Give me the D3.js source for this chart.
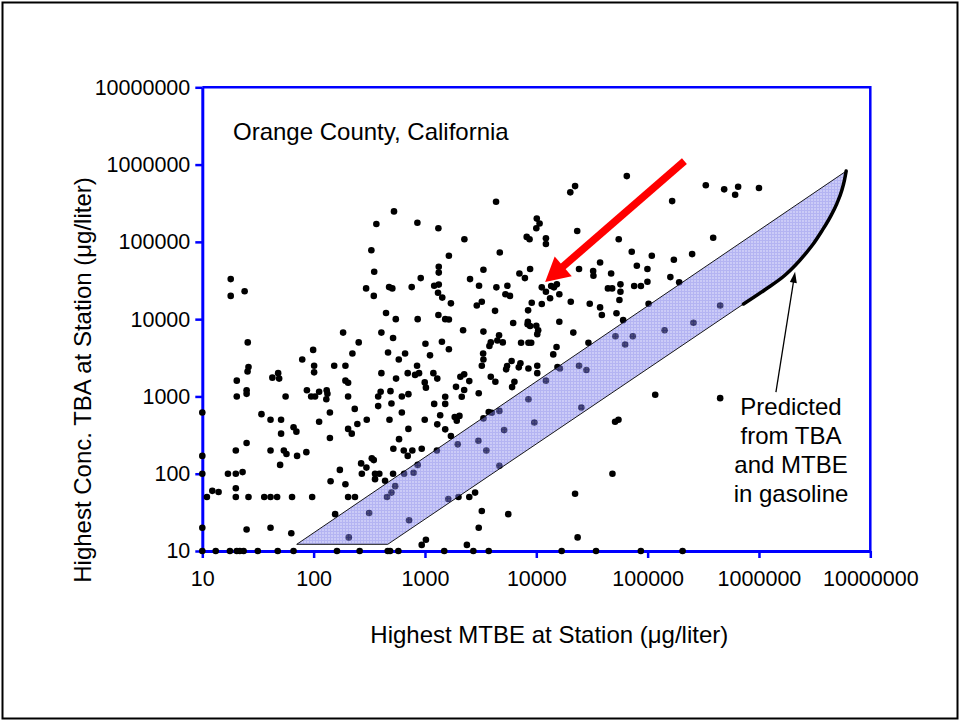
<!DOCTYPE html>
<html>
<head>
<meta charset="utf-8">
<script src="https://cdn.jsdelivr.net/npm/d3@7"></script>
<style>
  html, body { margin: 0; padding: 0; background: #fff; }
  svg { display: block; font-family: "Liberation Sans", Arial, sans-serif; }
</style>
</head>
<body>
<svg id="chart" width="960" height="721"></svg>
<script>
// ---------------- data ----------------
const xTicks = [10, 100, 1000, 10000, 100000, 1000000, 10000000];
const yTicks = [10, 100, 1000, 10000, 100000, 1000000, 10000000];

// station observations: [highest MTBE, highest TBA] in µg/liter
const stations = [
  [330,78000],[350,41000],[18,33000],[18,20000],[24,23000],[296,25000],[347,20000],[476,26000],[509,25000],[760,26000],
  [916,34000],[447,12000],[547,10000],[860,10000],[406,6700],[517,5700],[184,6700],[254,5000],[25.6,5000],[99,4000],
  [79,3000],[101,2500],[101,2050],[153,2500],[193,2500],[223,3600],[466,3700],[582,3000],[663,3600],[849,2500],
  [26,2400],[25.5,2100],[20.4,1600],[42.6,1750],[48,2000],[49,1700],[193,1600],[204,1500],[406,2000],[550,1700],
  [700,2000],[815,1900],[885,2000],
  [20.4,1000],[25,1200],[25,1080],[56,1000],[87,1200],[95,1000],[103,1000],[112,1150],[131,1200],[133,1080],
  [130,920],[204,1000],[380,1000],[400,1150],[490,1170],[620,1000],[710,1070],
  [10,620],[34,590],[41,500],[51,500],[66,400],[70,350],[51,330],[112,470],[140,620],[140,290],[204,380],[220,330],
  [247,440],[234,690],[300,500],[380,750],[500,810],[480,500],[620,620],[710,380],[585,280],[520,210],[645,200],
  [770,200],[935,210],[700,170],
  [25,250],[20,200],[41,200],[54,200],[57,180],[71,170],[86,190],[50,130],[267,136],[298,120],[333,158],[347,150],
  [172,112],[271,100],[356,100],[389,100],[438,81],[517,100],[356,85],[142,80],[193,73],
  [650,100],[790,103],[860,130],[540,69],[500,57],[456,50],[315,31],[720,25],[207,15],
  [10,170],[10,100],[17,100],[20,100],[23,105],[20,65],[12.3,60],[14,58],[11,50],[20,50],[26,50],[36,50],[41,50],
  [47,50],[64,50],[97,50],[204,50],[235,50],[156,30],[25,19],[41,20],[63,17],[10,20],
  [10,10],[13.2,10],[17.7,10],[20.4,10],[21.7,10],[23.5,10],[31.5,10],[47.6,10],[66,10],[162,10],[259,10],[463,10],
  [486,10],[577,10],[1490,10],[2720,10],[3740,10],[16900,10],[34400,10],[86900,10],[206000,10],
  [2260,108000],[8200,116000],[8700,108000],[4700,73000],[1640,66000],[1330,47600],[1330,40000],[3350,43500],
  [8800,44500],[7050,39000],[7900,34000],[2540,33000],[1210,27000],[1330,28000],[3060,27000],[4380,25800],
  [5500,27000],[5280,21000],[5800,20000],[1310,22000],[1430,19000],[1710,16000],[3240,16800],[2920,15000],
  [4260,12800],[9100,16300],[8440,13000],[1320,11300],[1520,10000],[1640,9900],[6200,8900],[8400,9250],
  [8350,8600],[8800,8150],[2200,7200],[3350,6900],[4630,6200],[4470,5300],[5000,5000],[3900,5000],[3790,4500],
  [1010,4800],[1420,5100],[1640,4070],[7300,4950],[8500,4950],[9000,4950],[1110,3400],[3330,3600],[3350,3000],
  [3240,2500],[6000,2870],[5470,2470],[5360,2240],[7200,2680],[6960,2380],[8500,2300],[1190,2000],[1290,1700],
  [995,1520],[1020,1300],[2250,1930],[2080,1800],[2500,1580],[3900,1800],[4290,1550],[6360,1550],[6060,1320],
  [1900,1330],[2250,1210],
  [12200,111000],[12200,94000],[55000,108000],[72000,74500],[37400,54000],[80000,49000],[99600,44500],
  [24200,44500],[32400,42000],[32600,36500],[47000,39000],[11200,25800],[12200,22600],[13600,26800],
  [14400,25800],[15300,28200],[13300,18600],[16100,21000],[20400,16800],[11200,15700],[30200,15800],
  [37400,14200],[38800,11300],[44000,25000],[48000,25000],[57000,28200],[57000,22600],[75700,26800],
  [87000,26800],[99600,30500],[55800,17700],[52500,11900],[60300,9700],[16100,9250],[21500,6700],[10000,8200],
  [10400,7200],[10200,6400],[15200,4360],[14200,3500],[29400,4950],[10200,2500],[10200,2000],[15500,2400],
  [51400,6000],[73600,6000],[62800,4700],[16300,2300],[24200,2500],[28200,2200],[12200,1600],
  [65000,710000],[22300,527000],[20200,437000],[4350,330000],[1320,150000],[10100,200000],[10700,173000],
  [10000,150000],[23300,138000],[527,248000],[366,170000],[855,177000],
  [333000,540000],[487000,478000],[650000,516000],[611000,407000],[1000000,497000],[166000,337000],
  [388000,113000],[109000,66000],[172000,58700],[251000,69500],[160000,35000],[192000,30000],[102000,15800],
  [448000,15000],[258000,9000],[142000,7200],[117000,1050],[448000,950],
  [3040,1100],[1520,990],[2140,990],[1210,800],[1520,800],[995,500],[1370,570],[1290,435],[1520,375],[1850,540],
  [1930,485],[2040,560],[1710,307],[3740,630],[3980,615],[4660,650],[3350,520],[1280,200],[1970,240],[3020,267],
  [3560,200],[4660,127],[5140,367],[8500,920],[9600,460],[25400,720],[1620,47],[2000,50],[2500,50],[2820,57],
  [3240,33],[5600,30],[3040,20],[22300,55],[48300,100],[51000,470],[54700,500],[23500,15],[2380,12],[1020,14],[935,12]
];

// predicted band (TBA and MTBE in gasoline)
const bandUpperEdge = [[70.5,12.2],[6070000,824000]];
const bandLowerEdge = [[463,12.2],[726000,15700]];
const predictedCurve = [
  [726000,15700],[1140000,24200],[1720000,37200],[2110000,49400],[2600000,69500],[3070000,93700],
  [3670000,138000],[4360000,209000],[5010000,313000],[5560000,468000],[5860000,630000],[6070000,824000]
];

// annotation arrows (data coordinates: [MTBE, TBA])
const redArrow = [[214000,1110000],[12000,30200]];
const noteArrow = [[1420000,1140],[2110000,41000]];

const chartTitle = "Orange County, California";
const xTitle = "Highest MTBE at Station (\u03bcg/liter)";
const yTitle = "Highest Conc. TBA at Station (\u03bcg/liter)";
const noteLines = ["Predicted", "from TBA", "and MTBE", "in gasoline"];

// ---------------- drawing ----------------
const svg = d3.select("#chart");
const W = 960, H = 721;
const plot = {left: 202.3, right: 870.3, top: 87.3, bottom: 551};

const x = d3.scaleLog().domain([10, 1e7]).range([plot.left, plot.right]);
const y = d3.scaleLog().domain([10, 1e7]).range([plot.bottom, plot.top]);

svg.append("rect").attr("width", W).attr("height", H).attr("fill", "#fff");
// outer frame
svg.append("rect").attr("x", 2.5).attr("y", 2.5).attr("width", W - 5).attr("height", H - 5)
  .attr("fill", "none").attr("stroke", "#000").attr("stroke-width", 2);

// hatch pattern for band
const defs = svg.append("defs");
const pat = defs.append("pattern").attr("id", "hatch").attr("patternUnits", "userSpaceOnUse")
  .attr("width", 3).attr("height", 3);
pat.append("rect").attr("width", 3).attr("height", 3).attr("fill", "#9898f0");
pat.append("rect").attr("width", 3).attr("height", 1).attr("fill", "#6a6ae6");
pat.append("rect").attr("width", 1).attr("height", 3).attr("fill", "#6a6ae6");

// plot frame top/right
svg.append("path")
  .attr("d", `M${plot.left},${plot.top}H${plot.right}V${plot.bottom}`)
  .attr("fill", "none").attr("stroke", "#0000ff").attr("stroke-width", 2.5);

// axes
const fmt = d3.format("d");
const yAxis = svg.append("g").attr("transform", `translate(${plot.left},0)`)
  .call(d3.axisLeft(y).tickValues(yTicks).tickFormat(fmt).tickSize(7).tickSizeOuter(0).tickPadding(5));
const xAxis = svg.append("g").attr("transform", `translate(0,${plot.bottom})`)
  .call(d3.axisBottom(x).tickValues(xTicks).tickFormat(fmt).tickSize(7).tickSizeOuter(0).tickPadding(13));
[yAxis, xAxis].forEach(g => {
  g.select(".domain").attr("stroke", "#0000ff").attr("stroke-width", 3);
  g.selectAll(".tick line").attr("stroke", "#0000ff").attr("stroke-width", 2.5);
  g.selectAll(".tick text").attr("fill", "#000").style("font-size", "21.5px")
    .style("font-family", "'Liberation Sans', Arial, sans-serif");
});

// points
svg.append("g").selectAll("circle").data(stations).join("circle")
  .attr("cx", d => x(d[0])).attr("cy", d => y(d[1])).attr("r", 3.3).attr("fill", "#000");

// band polygon: upper-left -> lower-left -> lower edge -> predicted curve -> back along upper edge
const curveLine = d3.line().x(d => x(d[0])).y(d => y(d[1])).curve(d3.curveMonotoneX);
const curveStr = curveLine(predictedCurve);
const bandPath = `M${x(bandUpperEdge[0][0])},${y(bandUpperEdge[0][1])}` +
  `L${x(bandLowerEdge[0][0])},${y(bandLowerEdge[0][1])}` +
  "L" + curveStr.slice(1) + "Z";
svg.append("path").attr("d", bandPath).attr("fill", "url(#hatch)").attr("fill-opacity", 0.5)
  .attr("stroke", "#000").attr("stroke-width", 0.9);
svg.append("path").attr("d", curveStr).attr("fill", "none")
  .attr("stroke", "#000").attr("stroke-width", 3.5).attr("stroke-linecap", "round");

// arrows
function arrow(pts, color, width, headLen, headW) {
  const [x0, y0] = [x(pts[0][0]), y(pts[0][1])];
  const [x1, y1] = [x(pts[1][0]), y(pts[1][1])];
  const dx = x1 - x0, dy = y1 - y0, L = Math.hypot(dx, dy);
  const ux = dx / L, uy = dy / L, px = -uy, py = ux;
  const bx = x1 - ux * headLen, by = y1 - uy * headLen;
  svg.append("line").attr("x1", x0).attr("y1", y0).attr("x2", bx + ux).attr("y2", by + uy)
    .attr("stroke", color).attr("stroke-width", width);
  svg.append("path")
    .attr("d", `M${x1},${y1}L${bx + px * headW / 2},${by + py * headW / 2}L${bx - px * headW / 2},${by - py * headW / 2}Z`)
    .attr("fill", color);
}
arrow(redArrow, "#ff0000", 7.5, 24, 26);
arrow(noteArrow, "#000", 1.3, 11, 7);

// texts
svg.append("text").attr("x", 233).attr("y", 139.5).text(chartTitle)
  .style("font-size", "24px").attr("fill", "#000");
svg.append("text").attr("x", (plot.left + plot.right) / 2 + 13).attr("y", 643).attr("text-anchor", "middle")
  .text(xTitle).style("font-size", "24px").attr("fill", "#000");
svg.append("text").attr("transform", `translate(91,${380}) rotate(-90)`).attr("text-anchor", "middle")
  .text(yTitle).style("font-size", "24px").attr("fill", "#000");
svg.append("g").selectAll("text").data(noteLines).join("text")
  .attr("x", 791).attr("y", (d, i) => 415 + i * 29).attr("text-anchor", "middle")
  .style("font-size", "24px").attr("fill", "#000").text(d => d);
</script>
</body>
</html>
